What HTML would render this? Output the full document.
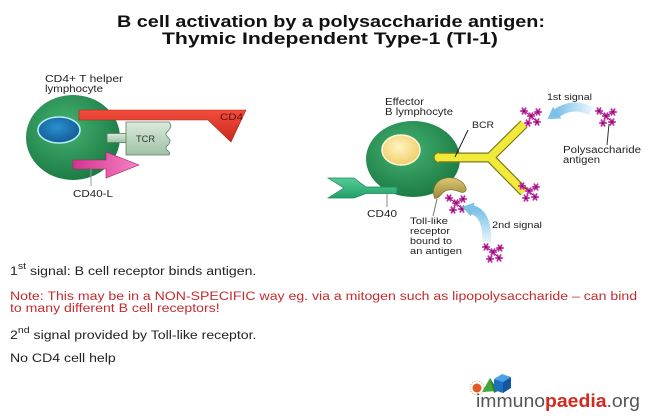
<!DOCTYPE html>
<html>
<head>
<meta charset="utf-8">
<style>
  html,body{margin:0;padding:0;background:#fff;}
  svg{display:block;}
  text{font-family:"Liberation Sans",Arial,sans-serif;}
</style>
</head>
<body>
<svg width="660" height="420" viewBox="0 0 660 420" xmlns="http://www.w3.org/2000/svg">
<defs>
  <radialGradient id="gc" cx="42%" cy="38%" r="65%">
    <stop offset="0" stop-color="#45b372"/>
    <stop offset="1" stop-color="#1b7a43"/>
  </radialGradient>
  <radialGradient id="gb" cx="45%" cy="40%" r="60%">
    <stop offset="0" stop-color="#2c8fcf"/>
    <stop offset="1" stop-color="#115d96"/>
  </radialGradient>
  <radialGradient id="gy" cx="45%" cy="40%" r="60%">
    <stop offset="0" stop-color="#fff4c0"/>
    <stop offset="1" stop-color="#efcf6c"/>
  </radialGradient>
  <linearGradient id="gr" x1="0" y1="0" x2="0" y2="1">
    <stop offset="0" stop-color="#f24d3c"/>
    <stop offset="1" stop-color="#c9291f"/>
  </linearGradient>
  <linearGradient id="gt" x1="0" y1="0" x2="0" y2="1">
    <stop offset="0" stop-color="#dbeadb"/>
    <stop offset="1" stop-color="#9fc2a5"/>
  </linearGradient>
  <linearGradient id="gp" x1="0" y1="0" x2="1" y2="0">
    <stop offset="0" stop-color="#d5338f"/>
    <stop offset="1" stop-color="#f484c4"/>
  </linearGradient>
  <linearGradient id="gcd" x1="0" y1="0" x2="0" y2="1">
    <stop offset="0" stop-color="#55cc98"/>
    <stop offset="1" stop-color="#22a067"/>
  </linearGradient>
  <linearGradient id="gk" x1="0" y1="0" x2="0" y2="1">
    <stop offset="0" stop-color="#d9c872"/>
    <stop offset="1" stop-color="#9d8838"/>
  </linearGradient>
  <linearGradient id="ga1" x1="1" y1="0" x2="0" y2="0">
    <stop offset="0" stop-color="#e6f5fc"/>
    <stop offset="1" stop-color="#7cc2e8"/>
  </linearGradient>
  <linearGradient id="ga2" x1="0" y1="1" x2="0" y2="0">
    <stop offset="0" stop-color="#e6f5fc"/>
    <stop offset="1" stop-color="#7cc2e8"/>
  </linearGradient>
  <g id="ast">
    <path d="M-3.2,0H3.2M-1.6,-2.8L1.6,2.8M1.6,-2.8L-1.6,2.8" stroke="#c42a9c" stroke-width="1.8" stroke-linecap="round" fill="none"/>
    <circle r="1.1" fill="#6b1468"/>
  </g>
  <g id="ag">
    <path d="M5,5L12,10L19,6M12,10L9,17M12,10L18,16" stroke="#7a1a70" stroke-width="1" fill="none"/>
    <use href="#ast" x="5" y="5"/>
    <use href="#ast" x="12" y="10"/>
    <use href="#ast" x="19" y="6"/>
    <use href="#ast" x="9" y="17"/>
    <use href="#ast" x="18" y="16"/>
  </g>
</defs>

<!-- Title -->
<text x="117" y="27" font-size="17" font-weight="bold" fill="#111" textLength="428" lengthAdjust="spacingAndGlyphs">B cell activation by a polysaccharide antigen:</text>
<text x="162" y="44" font-size="17" font-weight="bold" fill="#111" textLength="336" lengthAdjust="spacingAndGlyphs">Thymic Independent Type-1 (TI-1)</text>

<!-- ===== Left: T helper cell ===== -->
<text x="45" y="82" font-size="10" fill="#222" textLength="78" lengthAdjust="spacingAndGlyphs">CD4+ T helper</text>
<text x="45" y="92" font-size="10" fill="#222" textLength="58" lengthAdjust="spacingAndGlyphs">lymphocyte</text>

<ellipse cx="73" cy="137.5" rx="47" ry="42.5" fill="url(#gc)"/>
<ellipse cx="59" cy="130" rx="21" ry="13" fill="url(#gb)" stroke="#b4eef6" stroke-width="1.6"/>

<!-- CD4 red bar -->
<path d="M79,110 H246 L231,142 L208,120 H79 Z" fill="url(#gr)" stroke="#a82218" stroke-width="0.6"/>
<text x="220" y="120" font-size="9" fill="#5a0e0e" textLength="23" lengthAdjust="spacingAndGlyphs">CD4</text>

<!-- TCR -->
<rect x="107" y="133.5" width="21" height="9" fill="url(#gt)" stroke="#5b8061" stroke-width="0.8"/>
<path d="M126,122 H169 Q173,126 168,131 Q164,134 168,137.5 Q172,141 168,145 Q164,148 168,151 Q171,153 169,155 H126 Z" fill="url(#gt)" stroke="#5b8061" stroke-width="0.8"/>
<text x="136" y="142" font-size="9" fill="#333" textLength="19" lengthAdjust="spacingAndGlyphs">TCR</text>

<!-- CD40-L pink arrow -->
<polygon points="73,160 106,160 106,152 139,165 106,178 106,169 73,169" fill="url(#gp)" stroke="#a5206c" stroke-width="0.6"/>
<line x1="91" y1="169" x2="91" y2="186" stroke="#999" stroke-width="1"/>
<text x="73" y="197" font-size="10" fill="#222" textLength="40" lengthAdjust="spacingAndGlyphs">CD40-L</text>

<!-- ===== Right: B cell ===== -->
<text x="385" y="105" font-size="10" fill="#222" textLength="39" lengthAdjust="spacingAndGlyphs">Effector</text>
<text x="385" y="115" font-size="10" fill="#222" textLength="68" lengthAdjust="spacingAndGlyphs">B lymphocyte</text>

<ellipse cx="413" cy="159" rx="47" ry="38" fill="url(#gc)"/>
<ellipse cx="401" cy="150" rx="19" ry="15" fill="url(#gy)" stroke="#fff6d6" stroke-width="1.5"/>

<!-- CD40 -->
<polygon points="328,178 354,178 366,187 397,187 397,193.5 366,193.5 354,198 328,198 344,188" fill="url(#gcd)" stroke="#1c8756" stroke-width="0.7"/>
<line x1="387" y1="194" x2="387" y2="207" stroke="#888" stroke-width="1"/>
<text x="367" y="217" font-size="10" fill="#222" textLength="30" lengthAdjust="spacingAndGlyphs">CD40</text>

<!-- BCR -->
<path d="M439,157.5 H490 L524,124 M490,157.5 L524,192" stroke="#7d7a18" stroke-width="10" fill="none" stroke-linejoin="miter"/>
<path d="M439,157.5 H490 L524,124 M490,157.5 L524,192" stroke="#f2ea3a" stroke-width="7.6" fill="none" stroke-linejoin="miter"/>
<path d="M439,152.5 A5,5 0 0 0 439,162.5" fill="#f2ea3a" stroke="#7d7a18" stroke-width="1.2"/>
<line x1="468" y1="130" x2="455" y2="157" stroke="#222" stroke-width="1"/>
<text x="472" y="128" font-size="9.5" fill="#222" textLength="22" lengthAdjust="spacingAndGlyphs">BCR</text>

<!-- Toll-like receptor -->
<g transform="translate(449,189) scale(1.18) translate(-449,-189)">
<path d="M437,197 C434,190 437,182 445,180 C452,178 460,181 463,187 C465,191 461,193 457,191 C452,189 447,189 444,192 C442,194 440,197 437,197 Z" fill="url(#gk)" stroke="#7f6e2a" stroke-width="0.6"/>
</g>
<line x1="437" y1="199" x2="433" y2="216" stroke="#777" stroke-width="1"/>
<text x="410" y="224" font-size="9.5" fill="#222" textLength="38" lengthAdjust="spacingAndGlyphs">Toll-like</text>
<text x="410" y="234" font-size="9.5" fill="#222" textLength="40" lengthAdjust="spacingAndGlyphs">receptor</text>
<text x="410" y="244" font-size="9.5" fill="#222" textLength="42" lengthAdjust="spacingAndGlyphs">bound to</text>
<text x="410" y="254" font-size="9.5" fill="#222" textLength="52" lengthAdjust="spacingAndGlyphs">an antigen</text>

<!-- Antigens -->
<use href="#ag" transform="translate(519,106)"/>
<use href="#ag" transform="translate(517,181)"/>
<use href="#ag" transform="translate(444,193)"/>
<use href="#ag" transform="translate(481,242)"/>
<line x1="609" y1="124" x2="607" y2="145" stroke="#333" stroke-width="1"/>
<use href="#ag" transform="translate(594,106)"/>

<!-- 1st signal arrow -->
<path d="M591,111 Q573,102 557,113" stroke="url(#ga1)" stroke-width="9" fill="none"/>
<polygon points="553,107 561.5,118.5 547.5,119" fill="#7cc2e8"/>
<text x="547" y="100" font-size="9.5" fill="#222" textLength="45" lengthAdjust="spacingAndGlyphs">1st signal</text>
<text x="563" y="153" font-size="10" fill="#222" textLength="78" lengthAdjust="spacingAndGlyphs">Polysaccharide</text>
<text x="563" y="163" font-size="10" fill="#222" textLength="37" lengthAdjust="spacingAndGlyphs">antigen</text>

<!-- 2nd signal arrow -->
<path d="M487,242 C487,226 484,213 472,209.5" stroke="url(#ga2)" stroke-width="9" fill="none"/>
<polygon points="474.5,202.5 471,216.5 462,207" fill="#7cc2e8"/>
<text x="492" y="228" font-size="9.5" fill="#222" textLength="50" lengthAdjust="spacingAndGlyphs">2nd signal</text>

<!-- ===== Bottom text ===== -->
<text transform="translate(10,275) scale(1.176,1)" font-size="12" fill="#222"><tspan>1</tspan><tspan dy="-6" font-size="9">st</tspan><tspan dy="6"> signal: B cell receptor binds antigen.</tspan></text>
<text transform="translate(10,300) scale(1.176,1)" font-size="12" fill="#c62a2f">Note: This may be in a NON-SPECIFIC way eg. via a mitogen such as lipopolysaccharide – can bind</text>
<text transform="translate(10,312) scale(1.176,1)" font-size="12" fill="#c62a2f">to many different B cell receptors!</text>
<text transform="translate(10,339) scale(1.176,1)" font-size="12" fill="#222"><tspan>2</tspan><tspan dy="-6" font-size="9">nd</tspan><tspan dy="6"> signal provided by Toll-like receptor.</tspan></text>
<text transform="translate(10,362) scale(1.176,1)" font-size="12" fill="#222">No CD4 cell help</text>

<!-- ===== Logo ===== -->
<circle cx="477" cy="388" r="7" fill="none" stroke="#f09060" stroke-width="1" stroke-dasharray="1 1.5"/>
<circle cx="477" cy="388" r="4.5" fill="#e45a26"/>
<polygon points="482,392 490,378 498,391" fill="#3ea83a"/>
<polygon points="490,378 498,391 494,393" fill="#2a7f2a"/>
<polygon points="494,379 502,374 511,377 503,382" fill="#4aa0e8"/>
<polygon points="494,379 503,382 503,393 494,390" fill="#1f6fc0"/>
<polygon points="503,382 511,377 511,388 503,393" fill="#1556a0"/>
<text x="476" y="407" font-size="18" textLength="164" lengthAdjust="spacingAndGlyphs"><tspan fill="#555">immuno</tspan><tspan fill="#d42a1e" font-weight="bold">paedia</tspan><tspan fill="#555">.org</tspan></text>
</svg>
</body>
</html>
